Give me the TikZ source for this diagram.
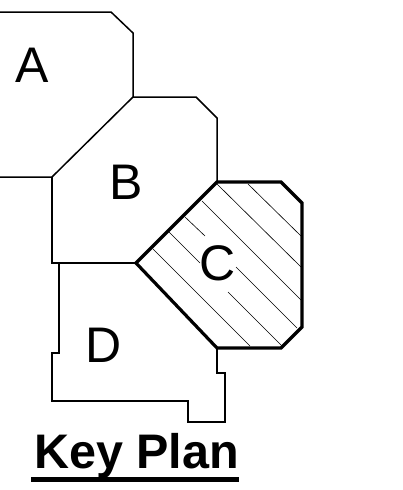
\documentclass[tikz,border=0pt]{standalone}
\usepackage{fontspec}
\setmainfont{Liberation Sans}
\begin{document}
\begin{tikzpicture}[x=1pt, y=-1pt, line join=miter,
	wall/.style={line width=1.5pt, black},
	zone/.style={line width=3.2pt, black},
	hatch/.style={line width=0.6pt, black},
	letter/.style={font=\fontsize{50}{50}\selectfont, inner sep=0pt},
	title/.style={font=\fontsize{48.5}{50}\selectfont\bfseries, inner sep=0pt}]
	
	\useasboundingbox (0,0) rectangle (403,490);
	
	\draw[wall] %A
	(0,12) -- (111,12) -- (133,33) -- (133,97) -- (52,177) -- (0,177);
	
	\draw[wall] %B
	(133,97) -- (196,97) -- (217,118) -- (217,182);
	\draw[wall]
	(52,177) -- (52,263) -- (136,263);
	
	\draw[wall] %D
	(59,263) -- (59,353) -- (52,353) -- (52,401) -- (188,401) -- (188,422)
	-- (225,422) -- (225,373) -- (217,373) -- (217,348);
	
	\foreach \xa/\ya/\xb/\yb in {248/184/301/236, 217/184/301/267, 202/201/301/300,
		185/217/205/236, 169/232/200/263, 153/249/250/346, 236/267/297/328, 228/292/282/346}
	\draw[hatch] (\xa,\ya) -- (\xb,\yb); %Schraffur C
	
	\draw[zone] %C
	(217,182) -- (281,182) -- (302,203) -- (302,327) -- (281,348) -- (217,348)
	-- (136,263) -- cycle;
	
	\node[letter] (zonea) at (32,65) {A}; %Beschriftungen
	\node[letter] (zoneb) at (126.5,182) {B};
	\node[letter] (zonec) at (218,263) {C};
	\node[letter] (zoned) at (103.5,345) {D};
	
	\node[title] (keyplan) at (136.5,456) {Key Plan};
	\draw[line width=5pt] (31,479) -- (239,479);
	
\end{tikzpicture}
\end{document}
